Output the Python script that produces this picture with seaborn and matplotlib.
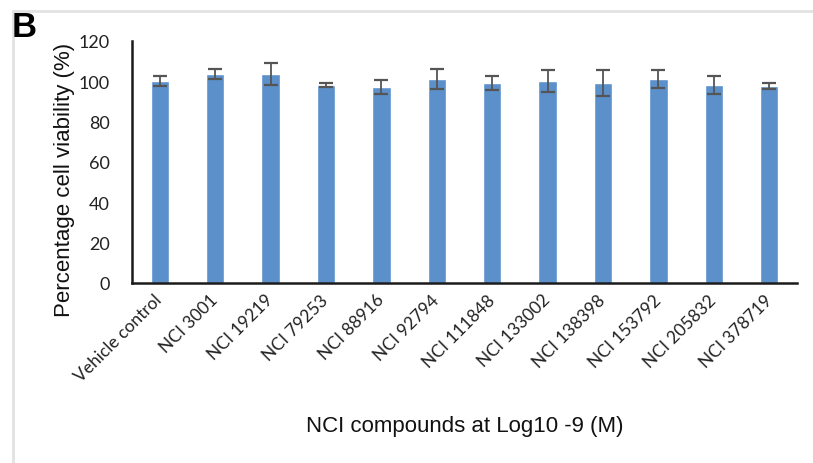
import matplotlib
matplotlib.use("Agg")
import matplotlib.pyplot as plt
import seaborn as sns
import pandas as pd
from matplotlib.lines import Line2D

# Cell viability after treatment with NCI compounds at 1 nM (log10 -9 M)
compounds = ["Vehicle control", "NCI 3001", "NCI 19219", "NCI 79253", "NCI 88916",
             "NCI 92794", "NCI 111848", "NCI 133002", "NCI 138398", "NCI 153792",
             "NCI 205832", "NCI 378719"]
viability = [100.0, 103.5, 103.5, 98.0, 97.0, 101.0, 99.0, 100.0, 99.0, 101.0, 98.0, 97.5]
viability_sd = [2.5, 2.5, 5.5, 1.0, 3.5, 5.0, 3.5, 5.5, 6.5, 4.5, 4.5, 1.5]
y_ticks = [0, 20, 40, 60, 80, 100, 120]

df = pd.DataFrame({"compound": compounds, "viability": viability, "sd": viability_sd})

sns.set_theme(style="white")
plt.rcParams["font.family"] = ["Liberation Sans", "DejaVu Sans"]

fig = plt.figure(figsize=(8.13, 4.64), dpi=100)
ax = fig.add_axes([132 / 813, 1 - 284 / 464, 665 / 813, 242 / 464])

bar_color = "#5B90CB"
sns.barplot(data=df, x="compound", y="viability", color=bar_color, saturation=1,
            width=0.33, errorbar=None, ax=ax)
ax.errorbar(range(len(compounds)), df["viability"], yerr=df["sd"], fmt="none",
            ecolor="#555555", elinewidth=1.3, capsize=5, capthick=1.6, zorder=3)

ax.set_xlim(-0.5, len(compounds) - 0.5)
ax.set_ylim(0, 120)
ax.set_yticks(y_ticks)
ax.set_yticklabels([str(t) for t in y_ticks], family=["Lato", "DejaVu Sans"], fontsize=13)
ax.set_xticks(range(len(compounds)))
ax.set_xticklabels(compounds, rotation=45, ha="right", va="center", rotation_mode="anchor",
                   family=["Lato", "DejaVu Sans"], fontsize=12.5)
ax.tick_params(axis="y", length=0, pad=16, colors="#222222")
ax.tick_params(axis="x", length=0, pad=10, colors="#222222")

for side in ("top", "right"):
    ax.spines[side].set_visible(False)
for side in ("left", "bottom"):
    ax.spines[side].set_color("#1a1a1a")
    ax.spines[side].set_linewidth(1.8)

ax.set_ylabel("Percentage cell viability (%)", fontsize=16, color="#111111")
ax.yaxis.set_label_coords(-0.086, 0.428)
ax.set_xlabel("NCI compounds at Log10 -9 (M)", fontsize=16, color="#111111")
ax.xaxis.set_label_coords(0.50, -0.545)

# Panel frame and letter
frame_color = "#e2e2e2"
fig.add_artist(Line2D([13 / 813, 1.0], [1 - 12 / 464, 1 - 12 / 464],
                      transform=fig.transFigure, color=frame_color, lw=2))
fig.add_artist(Line2D([13 / 813, 13 / 813], [0.0, 1 - 12 / 464],
                      transform=fig.transFigure, color=frame_color, lw=2))
fig.text(12 / 813, 1 - 37.5 / 464, "B", fontsize=25, fontweight="bold",
         ha="left", va="baseline", color="#000000")

fig.savefig("out.png", dpi=100, facecolor="white")
